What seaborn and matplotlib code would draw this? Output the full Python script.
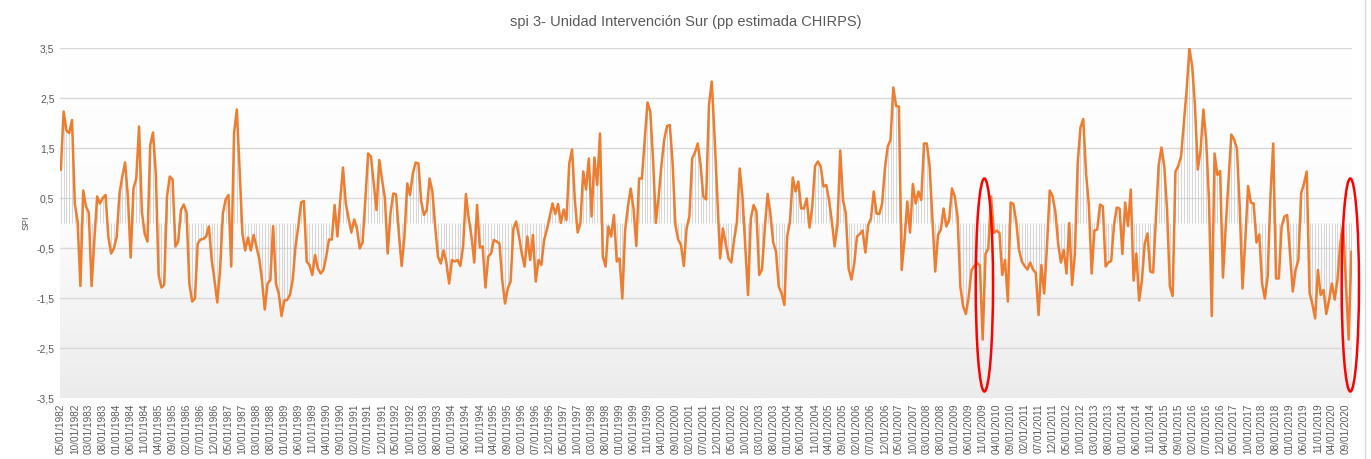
import matplotlib
matplotlib.use("Agg")
import matplotlib.pyplot as plt
from matplotlib.patches import Ellipse
from matplotlib.colors import LinearSegmentedColormap
import numpy as np
import pandas as pd
import seaborn as sns

# SPI-3 mensual, desde 05/1982
spi = [
    1.06, 2.23, 1.85, 1.80, 2.06, 0.39, 0.03, -1.26, 0.65, 0.33,
    0.21, -1.26, -0.34, 0.53, 0.39, 0.50, 0.56, -0.27, -0.61, -0.51,
    -0.27, 0.59, 0.93, 1.21, 0.53, -0.69, 0.69, 0.89, 1.93, 0.23,
    -0.21, -0.37, 1.56, 1.81, 0.99, -1.04, -1.29, -1.24, 0.53, 0.93,
    0.87, -0.47, -0.37, 0.26, 0.37, 0.21, -1.21, -1.57, -1.51, -0.41,
    -0.33, -0.32, -0.27, -0.07, -0.74, -1.14, -1.59, -0.94, 0.19, 0.47,
    0.56, -0.87, 1.79, 2.27, 1.06, -0.21, -0.55, -0.29, -0.55, -0.24,
    -0.47, -0.71, -1.14, -1.73, -1.21, -1.14, -0.06, -1.21, -1.41, -1.86,
    -1.55, -1.54, -1.44, -1.14, -0.47, -0.07, 0.41, 0.44, -0.77, -0.84,
    -1.04, -0.64, -0.91, -1.01, -0.94, -0.67, -0.33, -0.33, 0.36, -0.27,
    0.45, 1.11, 0.39, 0.09, -0.19, 0.07, -0.11, -0.51, -0.39, 0.46,
    1.39, 1.33, 0.79, 0.26, 1.26, 0.86, 0.50, -0.61, 0.19, 0.59,
    0.57, -0.21, -0.86, -0.27, 0.79, 0.56, 0.99, 1.21, 1.19, 0.43,
    0.16, 0.26, 0.89, 0.63, -0.07, -0.67, -0.81, -0.55, -0.79, -1.21,
    -0.74, -0.77, -0.74, -0.86, -0.47, 0.58, 0.09, -0.27, -0.79, 0.36,
    -0.49, -0.47, -1.29, -0.67, -0.61, -0.34, -0.37, -0.41, -1.14, -1.61,
    -1.31, -1.17, -0.11, 0.03, -0.27, -0.61, -0.87, -0.27, -0.74, -0.24,
    -1.17, -0.74, -0.84, -0.34, -0.13, 0.13, 0.39, 0.18, 0.38, 0.00,
    0.27, 0.06, 1.19, 1.47, 0.46, -0.19, 0.00, 1.03, 0.67, 1.29,
    0.13, 1.31, 0.76, 1.79, -0.67, -0.87, -0.07, -0.27, 0.16, -0.77,
    -0.71, -1.51, -0.14, 0.33, 0.69, 0.29, -0.46, 0.89, 0.89, 1.66,
    2.41, 2.23, 1.26, 0.00, 0.53, 1.16, 1.67, 1.94, 1.96, 1.19,
    -0.04, -0.33, -0.44, -0.86, -0.11, 0.13, 1.29, 1.41, 1.59, 1.16,
    0.53, 0.47, 2.35, 2.83, 1.75, 0.53, -0.71, -0.11, -0.41, -0.71,
    -0.79, -0.34, 0.01, 1.09, 0.53, -0.47, -1.44, 0.09, 0.36, 0.23,
    -1.04, -0.93, -0.11, 0.58, 0.19, -0.39, -0.57, -1.27, -1.41, -1.64,
    -0.27, 0.03, 0.91, 0.63, 0.83, 0.29, 0.29, 0.49, -0.09, 0.34,
    1.14, 1.23, 1.13, 0.73, 0.76, 0.46, 0.03, -0.47, -0.04, 1.45,
    0.46, 0.19, -0.91, -1.13, -0.82, -0.27, -0.22, -0.15, -0.59, -0.04,
    0.09, 0.63, 0.19, 0.18, 0.39, 1.09, 1.53, 1.66, 2.71, 2.34,
    2.33, -0.94, -0.34, 0.43, -0.19, 0.78, 0.39, 0.63, 0.46, 1.59,
    1.59, 1.13, 0.06, -0.97, -0.24, -0.13, 0.29, -0.07, 0.06, 0.69,
    0.53, 0.13, -1.27, -1.67, -1.82, -1.47, -0.94, -0.86, -0.80, -0.85,
    -2.33, -0.62, -0.51, 0.53, -0.20, -0.15, -0.20, -1.04, -0.74, -1.57,
    0.41, 0.38, 0.03, -0.54, -0.77, -0.86, -0.93, -0.79, -0.93, -1.00,
    -1.84, -0.84, -1.41, -0.47, 0.65, 0.54, 0.23, -0.41, -0.79, -0.54,
    -1.01, 0.00, -1.24, -0.61, 1.19, 1.91, 2.08, 0.99, 0.36, -1.01,
    -0.15, -0.13, 0.37, 0.33, -0.87, -0.79, -0.76, -0.04, 0.31, 0.29,
    -0.62, 0.41, -0.06, 0.67, -1.15, -0.61, -1.55, -1.14, -0.41, -0.21,
    -0.97, -0.99, 0.10, 1.16, 1.51, 1.13, 0.26, -1.27, -1.46, 1.03,
    1.14, 1.33, 1.99, 2.66, 3.49, 3.13, 2.33, 1.07, 1.46, 2.27,
    1.66, 0.46, -1.86, 1.39, 0.96, 1.04, -1.09, -0.07, 0.86, 1.77,
    1.67, 1.49, 0.33, -1.31, -0.34, 0.74, 0.41, 0.39, -0.39, -0.23,
    -1.21, -1.51, -1.07, 0.53, 1.59, -1.11, -1.11, -0.07, 0.13, 0.16,
    -0.61, -1.37, -0.94, -0.74, 0.59, 0.79, 1.03, -1.39, -1.62, -1.91,
    -0.94, -1.44, -1.34, -1.82, -1.54, -1.21, -1.53, -1.14, -0.41, -0.05,
    -1.20, -2.33, -0.57,
]
fechas = pd.date_range("1982-05-01", periods=len(spi), freq="MS")
# meses marcados con elipse roja
meses_marcados = ["2009-11-01", "2020-10-01"]

df = pd.DataFrame({"i": np.arange(len(spi)), "spi": spi, "fecha": fechas})

sns.set_theme(style="white")
plt.rcParams["font.family"] = ["Liberation Sans", "DejaVu Sans"]

gris = "#595959"
fig = plt.figure(figsize=(13.71, 4.59), dpi=100)
ax = fig.add_axes([60 / 1371, 1 - 398 / 459, 1292 / 1371, 350 / 459])

x0, x1 = -0.3, len(spi) - 0.8
# fondo degradado (blanco arriba, gris claro abajo)
cmap = LinearSegmentedColormap.from_list("fondo", ["#ffffff", "#fcfcfc", "#ececec"])
grad = np.linspace(0, 1, 256).reshape(-1, 1)
ax.imshow(grad, extent=[x0, x1, -3.5, 3.5], origin="upper", aspect="auto",
          cmap=cmap, zorder=0)

for yv in np.arange(-3.5, 3.6, 1.0):
    ax.axhline(yv, color="#d9d9d9", lw=1.0, zorder=1)

# lineas verticales hasta el cero
ax.vlines(df["i"], 0, df["spi"], color="#c8c8c8", lw=0.5, zorder=2)

sns.lineplot(data=df, x="i", y="spi", ax=ax, color="#ED7D31", lw=1.8, zorder=3)

for m in meses_marcados:
    k = int(np.where(fechas == pd.Timestamp(m))[0][0])
    ax.add_patch(Ellipse((k + 0.6, -1.24), 6.2, 4.26, fill=False, ec="red",
                         lw=1.8, zorder=4, clip_on=False))

ax.set_xlim(x0, x1)
ax.set_ylim(-3.5, 3.5)
ax.set_yticks(np.arange(-3.5, 3.6, 1.0))
ax.set_yticklabels([f"{v:.1f}".replace(".", ",") for v in np.arange(-3.5, 3.6, 1.0)],
                   fontsize=7.5, color=gris)
pos = np.arange(0, len(spi), 5)
ax.set_xticks(pos)
ax.set_xticklabels([fechas[p].strftime("%m/%d/%Y") for p in pos], rotation=90,
                   fontsize=7.2, color=gris)
ax.tick_params(axis="both", length=0, pad=4)
ax.set_xlabel("")
ax.set_ylabel("SPI", fontsize=6.5, color=gris, labelpad=4)
for s in ax.spines.values():
    s.set_visible(False)

fig.text(0.5, 1 - 22 / 459, "spi 3- Unidad Intervención Sur (pp estimada CHIRPS)",
         ha="center", va="center", fontsize=10.5, color=gris)
fig.add_artist(plt.Line2D([1365 / 1371, 1365 / 1371], [0, 1], color="#d9d9d9", lw=1))

fig.savefig("out.png", dpi=100)
